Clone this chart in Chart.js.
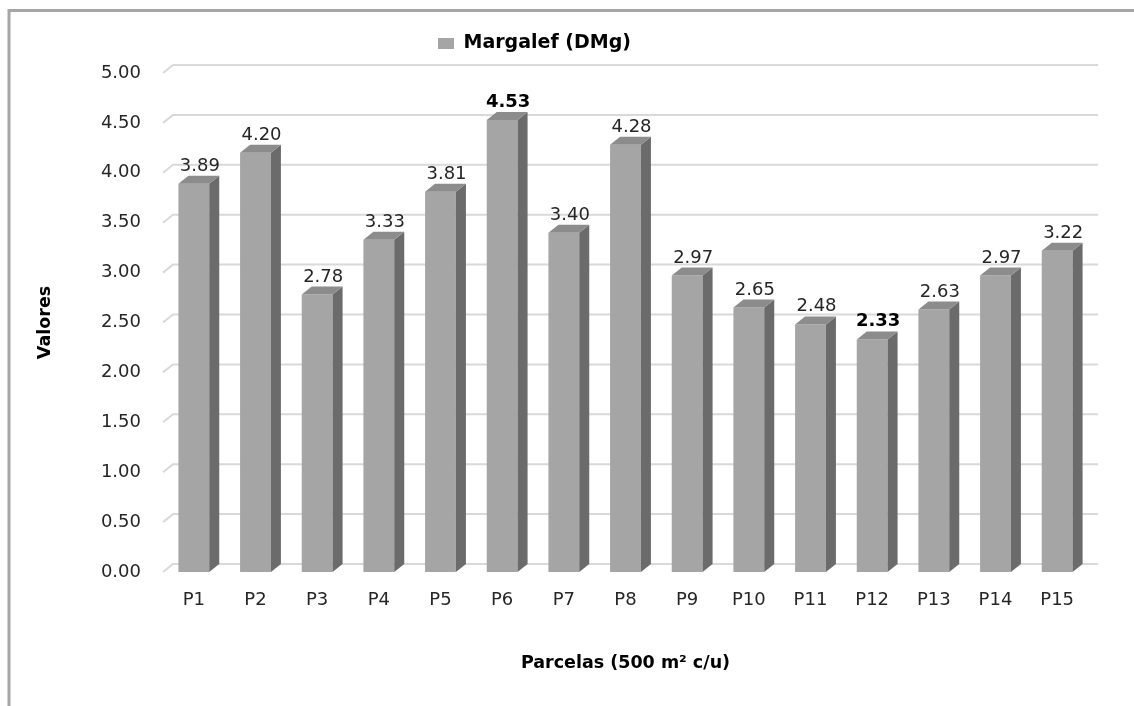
<!DOCTYPE html>
<html><head><meta charset="utf-8">
<script src="https://cdn.jsdelivr.net/npm/chart.js@4/dist/chart.umd.min.js"></script>
<style>html,body{margin:0;padding:0;background:#fff;}#wrap{width:1134px;height:706px;position:relative;}</style>
</head><body><div id="wrap"><canvas id="c" width="1134" height="706"></canvas></div>
<script>
const categories = ['P1','P2','P3','P4','P5','P6','P7','P8','P9','P10','P11','P12','P13','P14','P15'];
const margalef = [3.89,4.20,2.78,3.33,3.81,4.53,3.40,4.28,2.97,2.65,2.48,2.33,2.63,2.97,3.22];
const yTickLabels = ['0.00','0.50','1.00','1.50','2.00','2.50','3.00','3.50','4.00','4.50','5.00'];
const seriesLabel = 'Margalef (DMg)';
const xTitle = 'Parcelas (500 m² c/u)';
const yTitle = 'Valores';

const FONT = 'DejaVu Sans';
const DX = 10, DY = 8;
const FRONT = '#A5A5A5', SIDE = '#6B6B6B', TOP = '#8C8C8C', GRID = '#D9D9D9';

const layoutPlugin = {
  id: 'layoutFix',
  beforeInit(chart) {
    const lg = chart.legend;
    if (lg) {
      const orig = lg.fit;
      lg.fit = function () { orig.call(this); this.height = 73; };
    }
  },
  afterLayout(chart) {
    const lg = chart.legend;
    if (lg && lg.lineWidths) {
      const pad = lg.options.labels.padding;
      lg.left = 0;
      lg.right = 2 * 438 - pad + lg.lineWidths[0];
    }
  }
};

const framePlugin = {
  id: 'frame',
  beforeDraw(chart) {
    const ctx = chart.ctx;
    ctx.save();
    ctx.strokeStyle = '#A6A6A6';
    ctx.lineWidth = 3;
    ctx.beginPath();
    ctx.moveTo(9, 706);
    ctx.lineTo(9, 10.5);
    ctx.lineTo(1134, 10.5);
    ctx.stroke();
    ctx.restore();
  }
};

const gridPlugin = {
  id: 'grid3d',
  beforeDatasetsDraw(chart) {
    const {ctx, chartArea, scales} = chart;
    const ys = scales.y;
    ctx.save();
    ctx.strokeStyle = GRID;
    ctx.lineWidth = 2;
    ys.ticks.forEach(t => {
      const y = ys.getPixelForValue(t.value);
      ctx.beginPath();
      ctx.moveTo(chartArea.left, y);
      ctx.lineTo(chartArea.left + DX, y - DY);
      ctx.lineTo(chartArea.right + DX, y - DY);
      ctx.stroke();
    });
    ctx.restore();
  }
};

const barPlugin = {
  id: 'bar3d',
  afterDatasetsDraw(chart) {
    const ctx = chart.ctx;
    const meta = chart.getDatasetMeta(0);
    const vals = chart.data.datasets[0].data;
    const maxV = Math.max(...vals), minV = Math.min(...vals);
    ctx.save();
    meta.data.forEach((bar, i) => {
      const p = bar.getProps(['x','y','base','width'], true);
      const l = p.x - p.width / 2, r = p.x + p.width / 2;
      // side
      ctx.fillStyle = SIDE;
      ctx.beginPath();
      ctx.moveTo(r, p.y);
      ctx.lineTo(r + DX, p.y - DY);
      ctx.lineTo(r + DX, p.base - DY);
      ctx.lineTo(r, p.base);
      ctx.closePath();
      ctx.fill();
      // top
      ctx.fillStyle = TOP;
      ctx.beginPath();
      ctx.moveTo(l, p.y);
      ctx.lineTo(l + DX, p.y - DY);
      ctx.lineTo(r + DX, p.y - DY);
      ctx.lineTo(r, p.y);
      ctx.closePath();
      ctx.fill();
      // label
      const v = vals[i];
      const bold = (v === maxV || v === minV);
      ctx.font = (bold ? 'bold ' : '') + '18px "' + FONT + '"';
      ctx.fillStyle = bold ? '#000000' : '#262626';
      ctx.textAlign = 'center';
      ctx.textBaseline = 'alphabetic';
      ctx.fillText(v.toFixed(2), p.x + 6, p.y - DY - 5);
    });
    ctx.restore();
  }
};

new Chart(document.getElementById('c'), {
  type: 'bar',
  data: {
    labels: categories,
    datasets: [{
      label: seriesLabel,
      data: margalef,
      backgroundColor: FRONT,
      borderWidth: 0,
      barPercentage: 0.5,
      categoryPercentage: 1.0
    }]
  },
  options: {
    responsive: false,
    animation: false,
    devicePixelRatio: 1,
    layout: { padding: { top: 0, left: 0, right: 46, bottom: 0 } },
    plugins: {
      legend: {
        display: true,
        position: 'top',
        labels: {
          boxWidth: 16,
          boxHeight: 11,
          padding: 34,
          color: '#000000',
          font: { family: FONT, size: 19, weight: 'bold' }
        }
      },
      tooltip: { enabled: false },
      title: { display: false }
    },
    scales: {
      x: {
        grid: { display: false, drawTicks: false },
        border: { display: false },
        ticks: { color: '#262626', padding: 18, font: { family: FONT, size: 18 } },
        title: {
          display: true, text: xTitle, color: '#000000',
          font: { family: FONT, size: 17.5, weight: 'bold' },
          padding: { top: 0, bottom: 32.5 }
        },
        afterFit(s) { s.height = 134; }
      },
      y: {
        min: 0, max: 5,
        grid: { display: false, drawTicks: false },
        border: { display: false },
        ticks: {
          stepSize: 0.5,
          color: '#262626',
          padding: 22,
          font: { family: FONT, size: 18 },
          callback: (v, i) => yTickLabels[i]
        },
        title: {
          display: true, text: yTitle, color: '#000000',
          font: { family: FONT, size: 17.5, weight: 'bold' },
          padding: { top: 34.5, bottom: 0 }
        },
        afterFit(s) { s.width = 163; }
      }
    }
  },
  plugins: [layoutPlugin, framePlugin, gridPlugin, barPlugin]
});
</script>
</body></html>
